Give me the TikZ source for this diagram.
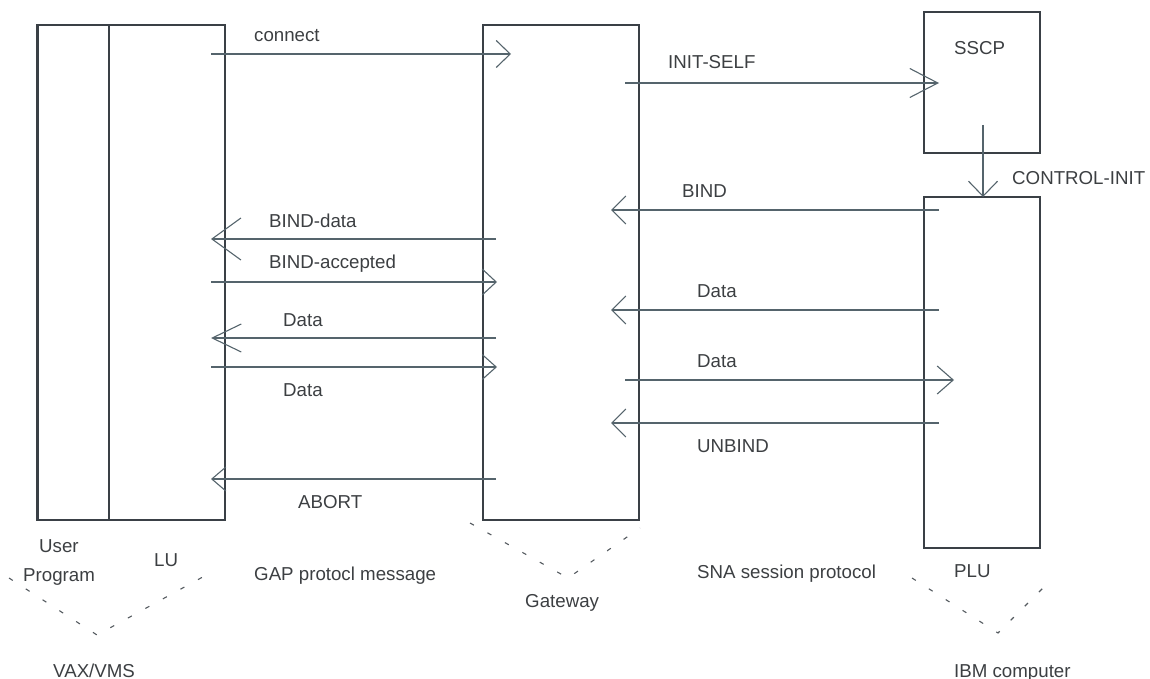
\documentclass[tikz,border=0pt]{standalone}
\usepackage{fontspec}
\setmainfont{Liberation Sans}
\usetikzlibrary{arrows.meta}
\definecolor{boxline}{HTML}{3A4046}
\definecolor{msgline}{HTML}{55646C}
\definecolor{txt}{HTML}{3C3F42}
\definecolor{dotline}{HTML}{555B60}
\tikzset{
  unit/.style={draw=boxline, line width=2.8pt, inner sep=0pt, outer sep=0pt, fill=none},
  msg/.style={draw=msgline, line width=1.1pt},
  head/.style 2 args={-{Straight Barb[length=#1pt,width=#2pt]}},
  lbl/.style={inner sep=0pt, anchor=base west, text=txt, font=\fontsize{18.7}{22}\selectfont},
  vee/.style={draw=dotline, line width=1.1pt, dash pattern=on 4.5pt off 15.5pt},
}
\begin{document}
\begin{tikzpicture}[x=1pt, y=-1pt]
\useasboundingbox (0,0) rectangle (1150,679);

% hosts and their protocol units
\node[unit, minimum width=71.5pt, minimum height=495pt] (up)   at (73.25,272.5) {};
\node[unit, minimum width=116pt,  minimum height=495pt] (lu)   at (167,272.5) {};
\node[unit, minimum width=156pt,  minimum height=495pt] (gw)   at (561,272.5) {};
\node[unit, minimum width=116pt,  minimum height=141pt] (sscp) at (982,82.5) {};
\node[unit, minimum width=116pt,  minimum height=351pt] (plu)  at (982,372.5) {};

% message end points
\coordinate (m1a) at (211,54);  \coordinate (m1b) at (511,54);
\coordinate (m2a) at (625,83);  \coordinate (m2b) at (939,83);
\coordinate (m3a) at (983,125); \coordinate (m3b) at (983,197);
\coordinate (m4a) at (939,210); \coordinate (m4b) at (611,210);
\coordinate (m5a) at (496,239); \coordinate (m5b) at (211,239);
\coordinate (m6a) at (211,282); \coordinate (m6b) at (497,282);
\coordinate (m7a) at (496,338); \coordinate (m7b) at (211,338);
\coordinate (m8a) at (211,367); \coordinate (m8b) at (497,367);
\coordinate (m9a) at (939,310); \coordinate (m9b) at (611,310);
\coordinate (m10a) at (625,380); \coordinate (m10b) at (954,380);
\coordinate (m11a) at (939,423); \coordinate (m11b) at (611,423);
\coordinate (m12a) at (496,479); \coordinate (m12b) at (211,479);

% messages
\draw[msg, head={14}{27}] (m1a) -- (m1b);
\draw[msg, head={28}{29}] (m2a) -- (m2b);
\draw[msg, head={15}{29}] (m3a) -- (m3b);
\draw[msg, head={14}{28}] (m4a) -- (m4b);
\draw[msg, head={29}{42}] (m5a) -- (m5b);
\draw[msg, head={14}{26}] (m6a) -- (m6b);
\draw[msg, head={29}{28}] (m7a) -- (m7b);
\draw[msg, head={14}{25}] (m8a) -- (m8b);
\draw[msg, head={14}{28}] (m9a) -- (m9b);
\draw[msg, head={16}{28}] (m10a) -- (m10b);
\draw[msg, head={14}{28}] (m11a) -- (m11b);
\draw[msg, head={14}{24}] (m12a) -- (m12b);

% message labels
\node[lbl] (t1)  at (254,42)  {connect};
\node[lbl] (t2)  at (668,69)  {INIT-SELF};
\node[lbl] (t3)  at (1012,185) {CONTROL-INIT};
\node[lbl] (t4)  at (682,197) {BIND};
\node[lbl] (t5)  at (269,227) {BIND-data};
\node[lbl] (t6)  at (269,268) {BIND-accepted};
\node[lbl] (t7)  at (283,326) {Data};
\node[lbl] (t8)  at (283,396) {Data};
\node[lbl] (t9)  at (697,297) {Data};
\node[lbl] (t10) at (697,367) {Data};
\node[lbl] (t11) at (697,452) {UNBIND};
\node[lbl] (t12) at (298,508) {ABORT};

% unit names and captions
\node[lbl] (sscpname) at (954,55)  {SSCP};
\node[lbl] (upname1)  at (39,552)  {User};
\node[lbl] (upname2)  at (23,581)  {Program};
\node[lbl] (luname)   at (154,566) {LU};
\node[lbl] (gap)      at (254,580) {GAP protocl message};
\node[lbl] (gwname)   at (525,607) {Gateway};
\node[lbl] (sna)      at (697,578) {SNA session protocol};
\node[lbl] (pluname)  at (954,577) {PLU};
\node[lbl] (vax)      at (53,677)  {VAX/VMS};
\node[lbl] (ibm)      at (954,677) {IBM computer};

% grouping brackets
\coordinate (v1a) at (9,578);   \coordinate (v1b) at (97,635);  \coordinate (v1c) at (210,573);
\coordinate (v2a) at (470,523); \coordinate (v2b) at (568,578); \coordinate (v2c) at (640,528);
\coordinate (v3a) at (912,578); \coordinate (v3b) at (998,633); \coordinate (v3c) at (1044,587);
\draw[vee] (v1a) -- (v1b) -- (v1c);
\draw[vee] (v2a) -- (v2b) -- (v2c);
\draw[vee] (v3a) -- (v3b) -- (v3c);
\end{tikzpicture}
\end{document}
